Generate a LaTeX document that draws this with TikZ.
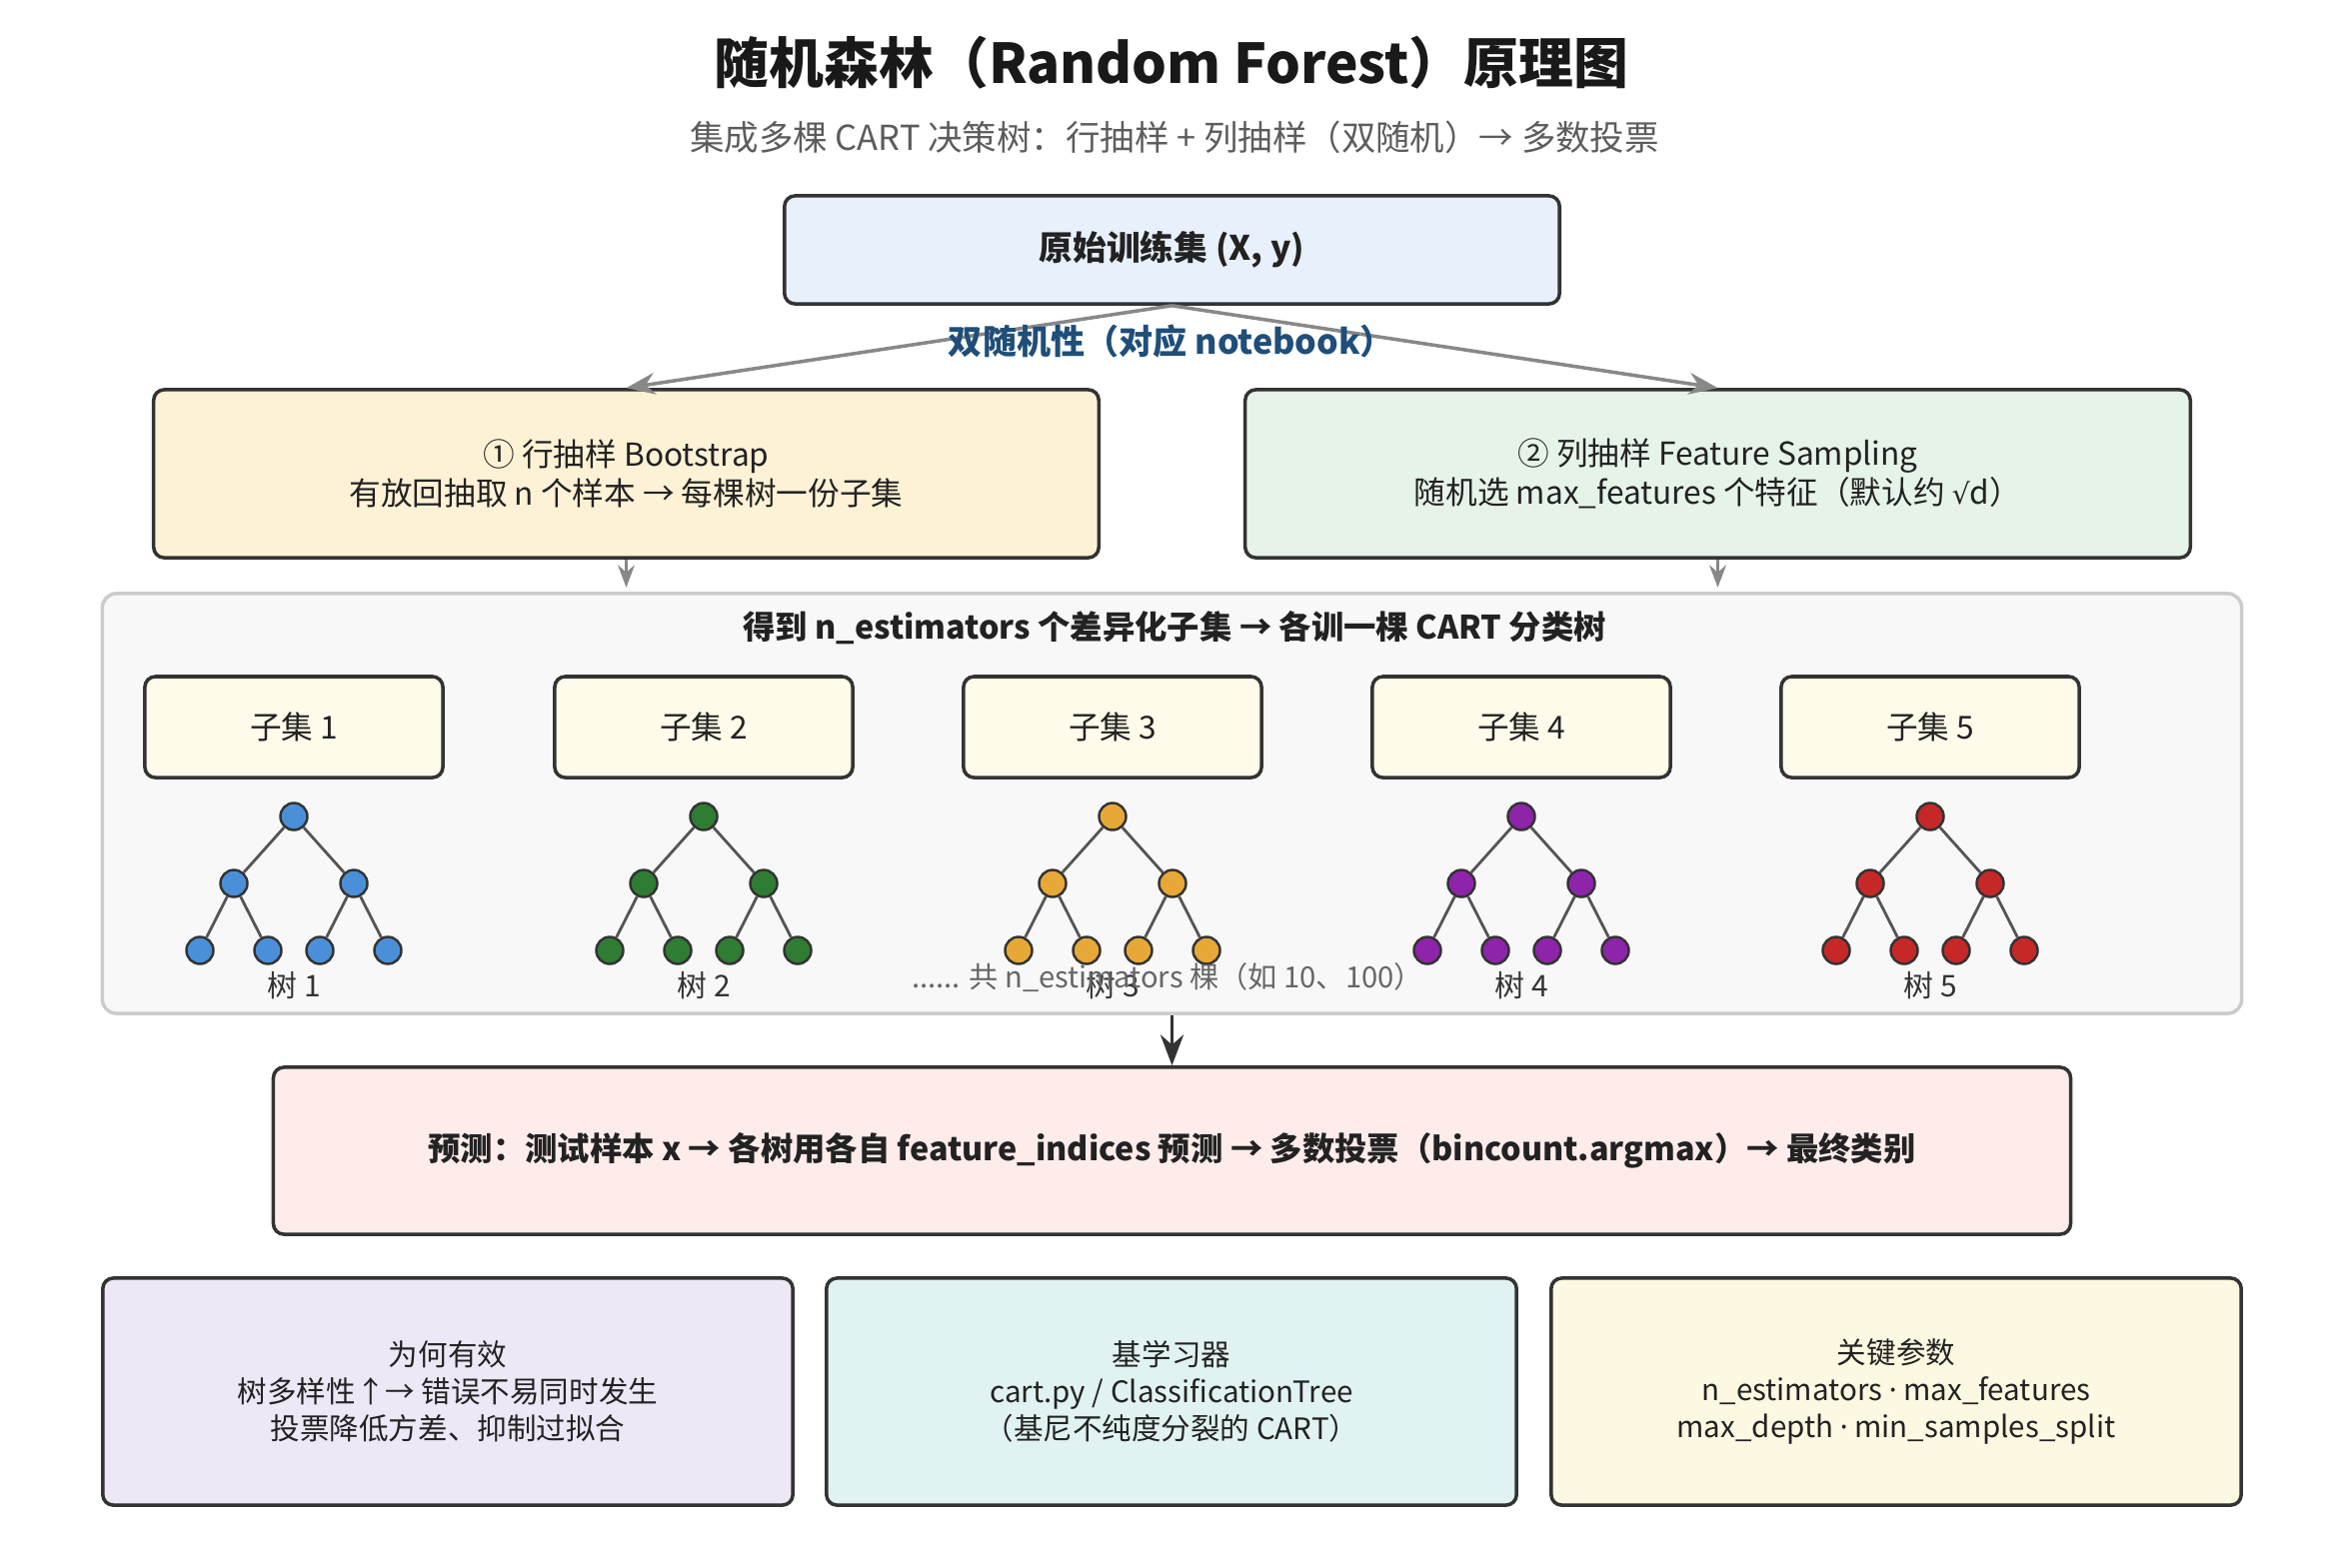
\documentclass[tikz,border=0pt]{standalone}
\usepackage{fontspec}
\setmainfont{Noto Sans CJK SC}
\newfontfamily\symfont{Noto Sans}
\newfontfamily\mathsymfont{DejaVu Sans}
\usetikzlibrary{arrows.meta}

\definecolor{boxline}{HTML}{333333}
\definecolor{textdark}{HTML}{222222}
\definecolor{arrowgray}{HTML}{888888}
\definecolor{notegray}{HTML}{666666}
\definecolor{noteblue}{HTML}{1F4E79}
\definecolor{fillblue}{HTML}{E8F0FB}
\definecolor{fillsand}{HTML}{FDF2D6}
\definecolor{fillmint}{HTML}{E6F3E8}
\definecolor{fillcream}{HTML}{FFFBEA}
\definecolor{fillpanel}{HTML}{F8F8F8}
\definecolor{panelline}{HTML}{CCCCCC}
\definecolor{fillrose}{HTML}{FDECEA}
\definecolor{filllilac}{HTML}{EDE7F6}
\definecolor{fillteal}{HTML}{E0F2F1}
\definecolor{fillbutter}{HTML}{FDF8E1}
\definecolor{treeblue}{HTML}{4A90D9}
\definecolor{treegreen}{HTML}{2E7D32}
\definecolor{treeorange}{HTML}{E8A838}
\definecolor{treepurple}{HTML}{8E24AA}
\definecolor{treered}{HTML}{C62828}
\definecolor{edgegray}{HTML}{555555}

\newcommand{\middot}{{\symfont ·}}
\newcommand{\rootsign}{{\mathsymfont\fontsize{8}{10}\selectfont √}}

\begin{document}
\begin{tikzpicture}[x=0.01cm, y=-0.01cm,
    box/.style={draw=boxline, line width=1pt, rounded corners=3pt, align=center,
      inner sep=0pt, text=textdark, font=\fontsize{9}{11}\selectfont},
    infobox/.style={box, minimum width=6.90cm, minimum height=2.27cm,
      font=\fontsize{8.4}{10.6}\selectfont},
    treenode/.style={circle, draw=boxline, line width=0.7pt, minimum size=0.27cm, inner sep=0pt},
    treeedge/.style={draw=edgegray, line width=0.8pt},
    flow/.style={draw=arrowgray, line width=1pt, -{Stealth[scale=1.1]}}]
  \useasboundingbox (0,0) rectangle (2345,1568);

  \node[font=\fontsize{15.6}{19}\selectfont\bfseries, text=black!90] (title) at (1172,63)
    {随机森林（Random Forest）原理图};
  \node[font=\fontsize{9.8}{12}\selectfont, text=notegray!90!black] (subtitle) at (1175,137)
    {集成多棵 CART 决策树：行抽样 + 列抽样（双随机）→ 多数投票};

  \node[box, fill=fillblue, minimum width=7.75cm, minimum height=1.08cm,
    font=\fontsize{9.6}{12}\selectfont\bfseries] (data) at (1172.5,250) {原始训练集 (X, y)};

  \node[box, fill=fillsand, minimum width=9.45cm, minimum height=1.68cm] (rows) at (626.5,474)
    {① 行抽样 Bootstrap\\有放回抽取 n 个样本 → 每棵树一份子集};
  \node[box, fill=fillmint, minimum width=9.45cm, minimum height=1.68cm] (cols) at (1718.5,474)
    {② 列抽样 Feature Sampling\\随机选 max\_features 个特征（默认约 \rootsign d）};

  \draw[flow] (data.south) -- (rows.north);
  \draw[flow] (data.south) -- (cols.north);
  \node[font=\fontsize{9.7}{12}\selectfont\bfseries, text=noteblue] (dual) at (1172,341)
    {双随机性（对应 notebook）};

  % panel of subsets and trees
  \node[draw=panelline, line width=1pt, fill=fillpanel, rounded corners=4pt,
    minimum width=21.39cm, minimum height=4.20cm, inner sep=0pt] (panel) at (1172.5,804) {};
  \node[font=\fontsize{9.2}{11}\selectfont\bfseries, text=textdark] (paneltitle) at (1175,628)
    {得到 n\_estimators 个差异化子集 → 各训一棵 CART 分类树};

  \draw[flow, line width=0.9pt, -{Stealth[scale=0.9]}] (rows.south) -- ++(0,28);
  \draw[flow, line width=0.9pt, -{Stealth[scale=0.9]}] (cols.south) -- ++(0,28);

  \foreach \cx/\col [count=\i] in {294/treeblue, 704/treegreen, 1113/treeorange,
      1522/treepurple, 1931/treered} {
    \node[box, fill=fillcream, minimum width=2.98cm, minimum height=1.01cm] (sub\i) at (\cx,727.5)
      {子集 \i};
    \node[treenode, fill=\col] (root\i) at (\cx,817) {};
    \node[treenode, fill=\col] (left\i) at (\cx-60,884) {};
    \node[treenode, fill=\col] (right\i) at (\cx+60,884) {};
    \node[treenode, fill=\col] (leafa\i) at (\cx-94,951) {};
    \node[treenode, fill=\col] (leafb\i) at (\cx-26,951) {};
    \node[treenode, fill=\col] (leafc\i) at (\cx+26,951) {};
    \node[treenode, fill=\col] (leafd\i) at (\cx+94,951) {};
    \draw[treeedge] (root\i) -- (left\i);
    \draw[treeedge] (root\i) -- (right\i);
    \draw[treeedge] (left\i) -- (leafa\i);
    \draw[treeedge] (left\i) -- (leafb\i);
    \draw[treeedge] (right\i) -- (leafc\i);
    \draw[treeedge] (right\i) -- (leafd\i);
    \node[font=\fontsize{8.5}{10}\selectfont, text=boxline] (treelabel\i) at (\cx,986) {树 \i};
  }
  \node[font=\fontsize{8.3}{10}\selectfont, text=notegray] (more) at (1168,978)
    {...... 共 n\_estimators 棵（如 10、100）};

  \node[box, fill=fillrose, minimum width=17.97cm, minimum height=1.67cm,
    font=\fontsize{9.2}{11}\selectfont\bfseries] (predict) at (1172.5,1151.5)
    {预测：测试样本 x → 各树用各自 feature\_indices 预测 → 多数投票（bincount.argmax）→ 最终类别};
  \draw[draw=boxline, line width=1.1pt, -{Stealth[scale=1.1]}] (panel.south) -- (predict.north);

  \node[infobox, fill=filllilac] (why) at (448,1392.5)
    {为何有效\\树多样性↑→ 错误不易同时发生\\投票降低方差、抑制过拟合};
  \node[infobox, fill=fillteal] (base) at (1172,1392.5)
    {基学习器\\cart.py / ClassificationTree\\（基尼不纯度分裂的 CART）};
  \node[infobox, fill=fillbutter] (params) at (1897,1392.5)
    {关键参数\\n\_estimators \middot{} max\_features\\max\_depth \middot{} min\_samples\_split};
\end{tikzpicture}
\end{document}
